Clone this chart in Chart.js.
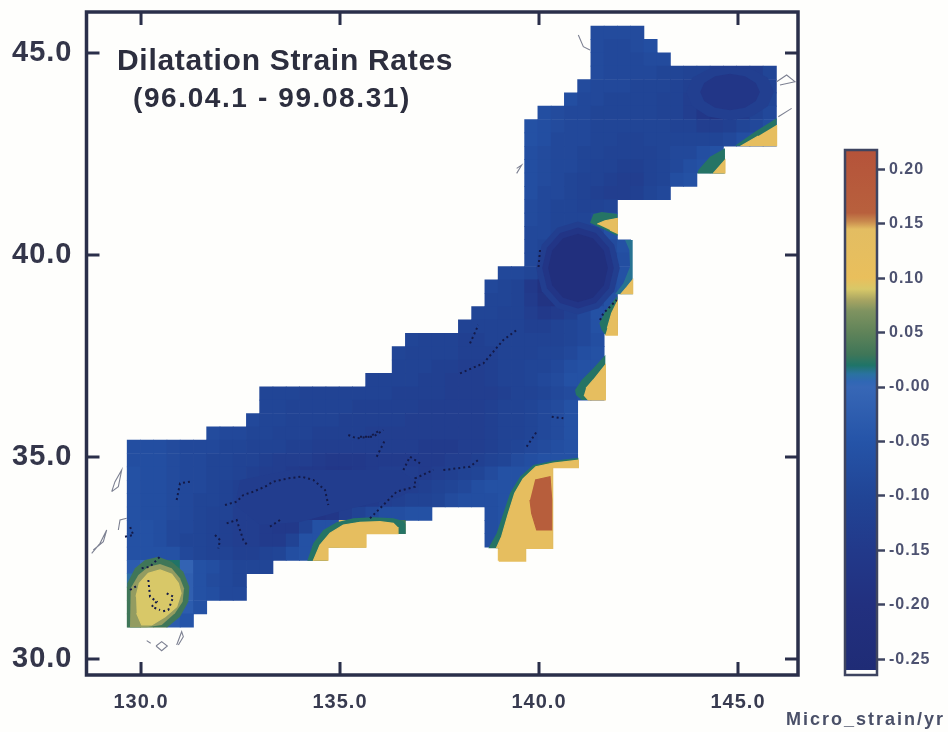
<!DOCTYPE html>
<html>
<head>
<meta charset="utf-8">
<style>
html,body{margin:0;padding:0;background:#fefefc;}
#wrap{position:relative;width:948px;height:732px;overflow:hidden;}
canvas{position:absolute;left:0;top:0;}
</style>
<script src="https://cdn.jsdelivr.net/npm/chart.js@4"></script>
</head>
<body>
<div id="wrap">
<canvas id="map" width="948" height="732"></canvas>
<canvas id="bar" width="948" height="732"></canvas>
</div>
<script>
// ---- text and ticks
const titleLine1 = "Dilatation Strain Rates";
const titleLine2 = "(96.04.1 - 99.08.31)";
const unitLabel = "Micro_strain/yr";
const lonTicks = [130, 135, 140, 145];
const latTicks = [30, 35, 40, 45];
const colorbarTicks = [0.20, 0.15, 0.10, 0.05, 0, -0.05, -0.10, -0.15, -0.20, -0.25];
const colorbarTickLabels = ["0.20", "0.15", "0.10", "0.05", "-0.00", "-0.05", "-0.10", "-0.15", "-0.20", "-0.25"];

// ---- colour scale
const colorbarValues = [0.2177, 0.16, 0.152, 0.145, 0.10, 0.09, 0.08, 0.07, 0.05, 0.03, 0.02, 0.012, 0.005, 0, -0.05, -0.10, -0.15, -0.20, -0.2595];
const colorbarColors = ["#b5533a", "#b8603d", "#c98a4e", "#e3bd62", "#e9bf5c", "#d8c868", "#a8a562", "#7f9360", "#5f8359", "#3f7658", "#1f7468", "#2a72a0", "#3067b4", "#3767b6", "#2554a8", "#214596", "#22398a", "#22307f", "#1f2c76"];

// ---- gridded strain rate: grid origin (deg) and rows of the 1/3 degree grid, north to south
const gridLon0 = 129.653, gridLonStep = 0.3329;
const gridLat0 = 45.668, gridLatStep = 0.3307;
const rowStartCol = [35,35,35,35,34,33,31,30,30,30,30,30,30,30,30,30,30,30,28,27,27,26,25,21,20,20,18,10,10,9,6,0,0,0,0,0,0,0,0,0,0,0,0,0,0];
const n = null;
const strainRows = [
[-.08,-.08,-.08,-.08],
[-.08,-.09,-.09,-.08,-.07],
[-.08,-.09,-.09,-.09,-.08,-.08],
[-.08,-.09,-.09,-.09,-.09,-.10,-.10,-.11,-.11,-.13,-.13,-.13,-.13,-.10],
[-.08,-.09,-.09,-.09,-.10,-.10,-.10,-.11,-.12,-.14,-.17,-.18,-.18,-.16,-.11],
[-.07,-.09,-.09,-.10,-.10,-.10,-.10,-.11,-.11,-.13,-.17,-.19,-.19,-.18,-.15,-.10],
[-.07,-.08,-.09,-.09,-.10,-.10,-.10,-.10,-.10,-.11,-.11,-.13,-.16,-.18,-.17,-.14,-.11,-.09],
[-.06,-.07,-.08,-.09,-.09,-.10,-.10,-.10,-.10,-.10,-.10,-.11,-.11,-.13,-.13,-.12,-.10,-.09,-.07],
[-.06,-.07,-.09,-.09,-.09,-.10,-.10,-.11,-.11,-.10,-.10,-.10,-.10,-.10,-.10,-.09,-.07,-.06,-.06],
[-.07,-.08,-.09,-.09,-.10,-.10,-.11,-.11,-.11,-.11,-.10,-.09,-.09,-.07,-.06],
[-.07,-.08,-.09,-.09,-.10,-.11,-.11,-.12,-.12,-.11,-.10,-.09,-.07,-.06,-.06],
[-.07,-.08,-.09,-.10,-.11,-.11,-.12,-.13,-.13,-.11,-.10,-.07,-.06],
[-.07,-.09,-.09,-.10,-.11,-.12,-.13,-.13,-.12,-.10,-.09],
[-.08,-.09,-.10,-.10,-.11,-.11,-.10],
[-.08,-.09,-.10,-.10,-.10,-.09,-.06],
[-.09,-.09,-.10,-.10,-.10,-.09,-.06],
[-.09,-.10,-.11,-.12,-.11,-.10,-.08,-.06],
[-.09,-.11,-.15,-.17,-.16,-.13,-.10,-.07],
[-.09,-.09,-.10,-.13,-.18,-.19,-.19,-.15,-.10,-.06],
[-.09,-.10,-.11,-.15,-.19,-.19,-.19,-.16,-.10,-.07,-.06],
[-.10,-.10,-.11,-.14,-.18,-.19,-.18,-.13,-.09,-.06],
[-.10,-.10,-.11,-.11,-.13,-.15,-.14,-.12,-.09,-.06,-.06],
[-.11,-.11,-.11,-.11,-.11,-.12,-.12,-.11,-.10,-.09,-.06,-.06],
[-.10,-.11,-.11,-.11,-.12,-.12,-.11,-.11,-.11,-.11,-.11,-.11,-.10,-.09,-.07],
[-.10,-.11,-.11,-.11,-.11,-.12,-.12,-.12,-.11,-.11,-.11,-.10,-.10,-.09,-.07,-.06],
[-.11,-.11,-.11,-.12,-.12,-.13,-.13,-.12,-.11,-.11,-.10,-.10,-.09,-.07,-.06,-.06],
[-.11,-.11,-.11,-.11,-.12,-.12,-.13,-.13,-.13,-.12,-.11,-.11,-.10,-.09,-.08,-.06,-.06,-.06],
[-.10,-.10,-.10,-.11,-.11,-.11,-.11,-.11,-.11,-.11,-.12,-.12,-.12,-.12,-.13,-.13,-.13,-.13,-.12,-.11,-.11,-.10,-.09,-.08,-.06,-.06],
[-.10,-.10,-.11,-.11,-.11,-.11,-.11,-.12,-.12,-.12,-.12,-.12,-.13,-.13,-.13,-.13,-.13,-.12,-.11,-.11,-.10,-.09,-.08,-.06],
[-.09,-.10,-.10,-.11,-.11,-.11,-.11,-.12,-.12,-.12,-.12,-.12,-.13,-.13,-.13,-.13,-.13,-.13,-.12,-.11,-.11,-.10,-.09,-.08,-.06],
[-.08,-.09,-.09,-.10,-.10,-.11,-.11,-.11,-.12,-.12,-.12,-.12,-.13,-.13,-.13,-.13,-.13,-.13,-.13,-.13,-.13,-.12,-.11,-.11,-.10,-.09,-.08,-.06],
[-.07,-.07,-.07,-.08,-.09,-.09,-.09,-.10,-.10,-.11,-.11,-.11,-.12,-.12,-.13,-.13,-.13,-.13,-.13,-.13,-.13,-.13,-.14,-.14,-.14,-.13,-.13,-.12,-.11,-.10,-.09,-.08,-.07,-.06],
[-.07,-.07,-.07,-.08,-.09,-.09,-.10,-.10,-.11,-.11,-.12,-.13,-.13,-.13,-.14,-.15,-.15,-.15,-.14,-.14,-.14,-.14,-.14,-.14,-.13,-.13,-.12,-.11,-.10,-.08,-.07,-.06,-.06,-.06],
[-.06,-.07,-.07,-.08,-.09,-.09,-.10,-.10,-.11,-.12,-.13,-.13,-.14,-.15,-.15,-.16,-.16,-.15,-.14,-.13,-.13,-.13,-.14,-.13,-.12,-.11,-.10,-.08,-.06,-.06,-.06,-.06],
[-.06,-.07,-.07,-.08,-.09,-.09,-.10,-.11,-.12,-.13,-.13,-.14,-.15,-.16,-.16,-.16,-.16,-.15,-.14,-.13,-.13,-.13,-.12,-.11,-.10,-.09,-.07,-.06,-.06,-.06,.12,.12],
[-.06,-.07,-.07,-.08,-.09,-.10,-.10,-.11,-.12,-.13,-.14,-.15,-.16,-.16,-.17,-.17,-.16,-.15,-.14,-.13,-.12,-.11,-.11,-.10,-.08,-.07,-.07,-.07,-.06,.12,.15,.18],
[-.06,-.07,-.07,-.08,-.09,-.10,-.11,-.11,-.13,-.13,-.14,-.15,-.16,-.16,-.17,-.16,-.13,-.11,-.09,-.07,-.07,-.06,-.06,n,n,n,n,-.07,-.06,.12,.16,.19],
[-.06,-.06,-.07,-.09,-.09,-.10,-.11,-.12,-.13,-.13,-.14,-.15,-.15,-.11,-.06,-.06,.10,.11,.11,.11,.03,n,n,n,n,n,n,-.07,-.06,.12,.16,.19],
[-.06,-.06,-.07,-.09,-.10,-.10,-.11,-.12,-.13,-.13,-.14,-.14,-.11,-.06,-.06,.06,.11,.11,n,n,n,n,n,n,n,n,n,-.07,.10,.12,.16,.19],
[-.06,-.06,-.06,-.06,-.09,-.10,-.11,-.11,-.12,-.12,-.11,-.10,-.07,-.06,.11,n,n,n,n,n,n,n,n,n,n,n,n,n,.11,.11],
[-.03,.00,.02,.02,-.01,-.06,-.07,-.09,-.10,-.10,-.10],
[.01,.05,.11,.10,-.02,-.06,-.08,-.09,-.10],
[.03,.08,.11,.10,-.02,-.06,-.07,-.09,-.09],
[.03,.08,.10,.08,-.03,-.06],
[.03,.07,.07,-.03,-.05]
];

// ---- contour areas: [lon, lat] vertices, with the value of each area
const honshuLowOuter = [[142.03,39.678],[141.89,40.253],[141.505,40.674],[140.98,40.828],[140.455,40.674],[140.07,40.253],[139.93,39.678],[140.07,39.103],[140.455,38.682],[140.98,38.528],[141.505,38.682],[141.89,39.103]];
const honshuLowMiddle = [[141.88,39.678],[141.76,40.178],[141.43,40.544],[140.98,40.678],[140.53,40.544],[140.2,40.178],[140.08,39.678],[140.2,39.178],[140.53,38.812],[140.98,38.678],[141.43,38.812],[141.76,39.178]];
const honshuLowInner = [[141.73,39.678],[141.63,40.103],[141.355,40.414],[140.98,40.528],[140.605,40.414],[140.33,40.103],[140.23,39.678],[140.33,39.253],[140.605,38.942],[140.98,38.828],[141.355,38.942],[141.63,39.253]];
const hokkaidoLowOuter = [[145.9,44.035],[145.75,44.385],[145.35,44.6],[144.8,44.65],[144.25,44.6],[143.85,44.385],[143.7,44.035],[143.85,43.685],[144.25,43.43],[144.8,43.335],[145.35,43.43],[145.75,43.685]];
const hokkaidoLowInner = [[145.55,44.035],[145.45,44.26],[145.175,44.425],[144.8,44.485],[144.425,44.425],[144.15,44.26],[144.05,44.035],[144.15,43.81],[144.425,43.645],[144.8,43.585],[145.175,43.645],[145.45,43.81]];
const westLow = [[132.487,34.431],[133.744,34.678],[135.251,34.678],[136.508,34.678],[137.01,34.307],[136.508,34.01],[135.126,33.688],[133.995,33.391],[132.99,33.317],[132.362,33.812]];
const kyushuOuter = [[129.656,31.873],[129.849,32.244],[130.10,32.45],[130.435,32.533],[130.77,32.41],[131.063,32.162],[131.214,31.79],[131.189,31.419],[130.98,31.048],[130.661,30.784],[129.656,30.784]];
const kyushuMiddle = [[129.74,31.749],[129.933,32.079],[130.184,32.285],[130.477,32.351],[130.77,32.244],[130.98,31.997],[131.08,31.749],[131.047,31.419],[130.854,31.13],[130.519,30.842],[130.142,30.784],[129.723,30.784]];
const kyushuInner = [[129.874,31.543],[129.958,31.873],[130.184,32.12],[130.477,32.203],[130.77,32.096],[130.938,31.873],[131.005,31.625],[130.896,31.295],[130.603,31.048],[130.268,30.842],[130.017,30.842],[129.891,31.13]];
const shikokuOuter = [[134.178,32.433],[134.329,32.864],[134.58,33.193],[134.917,33.384],[135.334,33.483],[135.837,33.507],[136.339,33.483],[136.59,33.416],[136.641,33.342],[136.641,33.102],[135.653,33.102],[135.653,32.767],[134.698,32.767],[134.698,32.433]];
const shikokuInner = [[134.329,32.433],[134.497,32.822],[134.749,33.112],[135.083,33.317],[135.503,33.384],[136.005,33.399],[136.339,33.359],[136.432,33.267],[136.457,33.102],[135.653,33.102],[135.653,32.767],[134.698,32.767],[134.698,32.433]];
const bosoOuter = [[138.727,32.739],[138.937,33.11],[139.104,33.605],[139.272,34.10],[139.523,34.513],[139.858,34.802],[140.361,34.909],[140.989,34.983],[140.989,34.736],[140.344,34.736],[140.344,32.739],[139.665,32.739],[139.665,32.425],[139.004,32.425],[139.004,32.739]];
const bosoInner = [[138.93,32.739],[139.06,33.028],[139.23,33.605],[139.39,34.10],[139.60,34.46],[139.92,34.76],[140.361,34.85],[140.989,34.92],[140.989,34.736],[140.344,34.736],[140.344,32.739],[139.665,32.739],[139.665,32.425],[139.004,32.425],[139.004,32.739]];
const bosoPeak = [[139.90,34.43],[140.277,34.513],[140.319,33.935],[140.319,33.193],[139.942,33.193],[139.816,33.605],[139.774,33.935]];
const kashimaOuter = [[140.905,36.658],[141.072,36.906],[141.365,37.195],[141.667,37.525],[141.667,36.411],[141.072,36.411],[140.93,36.535]];
const kashimaInner = [[141.181,36.70],[141.365,36.906],[141.667,37.277],[141.667,36.411],[141.24,36.411],[141.131,36.535]];
const sanrikuOuter = [[141.516,38.308],[141.659,38.597],[141.784,38.762],[141.969,38.985],[141.969,38.019],[141.667,38.019],[141.575,38.143]];
const sanrikuInner = [[141.717,38.184],[141.826,38.556],[141.969,38.844],[141.969,38.019],[141.667,38.019]];
const iwateEdge = [[142.161,40.371],[142.354,40.371],[142.354,39.026],[141.91,39.026],[142.119,39.298],[142.287,39.711],[142.27,40.123]];
const iwateInner = [[142.052,39.026],[142.203,39.199],[142.354,39.381],[142.354,39.026]];
const aomoriOuter = [[141.282,40.80],[141.366,41.014],[141.575,41.064],[141.969,41.014],[141.969,40.47],[141.784,40.561],[141.491,40.701]];
const aomoriInner = [[141.466,40.767],[141.659,40.849],[141.969,40.907],[141.969,40.536],[141.784,40.618]];
const kushiroOuter = [[145.97,43.383],[145.97,42.706],[144.925,42.706],[145.427,43.053]];
const kushiroInner = [[145.97,43.218],[145.97,42.706],[145.092,42.706],[145.511,42.946]];
const erimoOuter = [[144.003,42.104],[144.297,42.434],[144.673,42.64],[144.673,42.02],[143.98,42.02]];
const erimoInner = [[144.38,42.02],[144.673,42.352],[144.673,42.02]];
const contourAreas = [honshuLowOuter,honshuLowMiddle,honshuLowInner,hokkaidoLowOuter,hokkaidoLowInner,westLow,kyushuOuter,kyushuMiddle,kyushuInner,shikokuOuter,shikokuInner,bosoOuter,bosoInner,bosoPeak,kashimaOuter,kashimaInner,sanrikuOuter,sanrikuInner,iwateEdge,iwateInner,aomoriOuter,aomoriInner,kushiroOuter,kushiroInner,erimoOuter,erimoInner];
const contourValues = [-0.13,-0.17,-0.21,-0.125,-0.165,-0.135,0.03,0.075,0.09,0.022,0.12,0.022,0.12,0.17,0.022,0.12,0.022,0.12,0.014,0.12,0.022,0.12,0.022,0.12,0.022,0.12];

// ---- coastlines over the field
const coastDark = [
[[132.11,33.812],[132.403,33.894],[132.571,34.059],[132.822,34.142],[133.115,34.266],[133.325,34.39],[133.701,34.472],[134.036,34.513],[134.33,34.431],[134.623,34.183],[134.706,33.812]],
[[135.209,35.545],[135.418,35.462],[135.753,35.503],[136.005,35.668]],
[[132.152,33.358],[132.403,33.441],[132.487,33.193],[132.571,32.946],[132.696,32.781]],
[[131.859,33.069],[131.985,32.946],[131.943,32.739]],
[[130.896,33.936],[130.98,34.348],[131.231,34.39]],
[[133.241,33.276],[133.492,33.441]],
[[130.184,31.955],[130.226,31.543],[130.393,31.419],[130.268,31.295],[130.477,31.213]],
[[130.645,31.625],[130.812,31.543],[130.686,31.213],[130.519,31.172]],
[[129.723,31.708],[129.933,31.832]],
[[130.016,32.244],[130.226,32.285],[130.477,32.533]],
[[129.598,33.028],[129.807,33.069],[129.723,33.276]],
[[138.267,37.813],[138.476,38.267]],
[[138.016,37.071],[138.602,37.318],[139.104,37.896],[139.439,38.143]],
[[139.69,35.256],[139.942,35.627]],
[[140.319,35.998],[140.612,35.957]],
[[137.597,34.678],[138.267,34.76],[138.518,34.967]],
[[135.754,33.482],[136.173,33.894],[136.424,34.142],[136.885,34.265],[136.885,34.472],[137.346,34.678]],
[[136.592,34.678],[136.759,35.008],[137.01,34.843]],
[[135.922,35.008],[136.131,35.421]],
[[135.503,35.503],[135.838,35.503],[136.089,35.668]],
[[141.533,38.391],[141.617,38.556],[141.952,38.886]],
[[140.025,40.123],[139.983,39.628]]
];
const coastIslands = [
[[129.263,34.142],[129.346,34.39],[129.514,34.678],[129.43,34.266],[129.263,34.142]],
[[128.76,32.616],[128.97,32.863],[129.137,33.193],[129.053,32.904],[128.802,32.698]],
[[129.43,33.193],[129.472,33.441],[129.64,33.482]],
[[130.377,30.322],[130.519,30.429],[130.661,30.322],[130.519,30.206],[130.377,30.322]],
[[130.896,30.347],[131.021,30.676],[131.063,30.553],[130.938,30.347]],
[[130.142,30.454],[130.243,30.388]],
[[140.988,45.445],[141.114,45.156],[141.281,45.074]],
[[139.439,42.145],[139.564,42.227],[139.439,42.021]],
[[145.971,44.29],[146.222,44.455],[146.431,44.29],[146.055,44.208]],
[[146.013,43.424],[146.348,43.63]]
];

// ---- helpers
function hexToRgb(h){return [parseInt(h.slice(1,3),16),parseInt(h.slice(3,5),16),parseInt(h.slice(5,7),16)];}
function colorOf(v){
  for(let i=1;i<colorbarValues.length;i++){
    if(v>=colorbarValues[i]){
      const a=hexToRgb(colorbarColors[i-1]),b=hexToRgb(colorbarColors[i]);
      const t=(v-colorbarValues[i])/(colorbarValues[i-1]-colorbarValues[i]);
      const c=a.map((x,k)=>Math.round(b[k]+(x-b[k])*Math.min(1,t)));
      return `rgb(${c[0]},${c[1]},${c[2]})`;
    }
  }
  return colorbarColors[colorbarColors.length-1];
}
const toXY=p=>({x:p[0],y:p[1]});

const cellPoints=[],cellColors=[];
strainRows.forEach((row,r)=>{
  row.forEach((v,i)=>{
    if(v===null)return;
    cellPoints.push({x:gridLon0+(rowStartCol[r]+i+0.5)*gridLonStep,y:gridLat0-(r+0.5)*gridLatStep});
    cellColors.push(colorOf(v));
  });
});

const datasets=[{
  label:'cells',data:cellPoints,pointStyle:'rect',pointRadius:9.9,pointHoverRadius:9.9,
  pointBackgroundColor:cellColors,pointBorderWidth:0,showLine:false,order:100
}];
contourAreas.forEach((area,i)=>{
  const c=colorOf(contourValues[i]);
  datasets.push({label:'contour'+i,data:area.map(toXY),showLine:true,fill:'shape',backgroundColor:c,
    borderColor:c,borderWidth:contourValues[i]>=0.09?1.2:0,pointRadius:0,tension:0,order:90-i});
});
coastDark.forEach((l,i)=>datasets.push({label:'coast'+i,data:l.map(toXY),showLine:true,fill:false,borderColor:'#141a48',
  borderWidth:2,borderDash:[2,3],pointRadius:0,tension:0,order:5}));
coastIslands.forEach((l,i)=>datasets.push({label:'isle'+i,data:l.map(toXY),showLine:true,fill:false,borderColor:'#7d8192',
  borderWidth:1.1,pointRadius:0,tension:0,order:4}));

const axisColor='#2a2f4a';
function tickVals(list){return s=>{s.ticks=list.map(v=>({value:v}));};}

const frameTicks={
  id:'frameTicks',
  beforeDraw(c){c.ctx.letterSpacing='1px';},
  afterDraw(c){
    const {ctx,chartArea:a,scales:{x,y}}=c,len=13;
    ctx.save();
    ctx.letterSpacing='0px';
    ctx.strokeStyle=axisColor;ctx.lineWidth=3;
    lonTicks.forEach(v=>{const p=x.getPixelForValue(v);
      ctx.beginPath();ctx.moveTo(p,a.top);ctx.lineTo(p,a.top+len);ctx.moveTo(p,a.bottom);ctx.lineTo(p,a.bottom-len);ctx.stroke();});
    latTicks.forEach(v=>{const p=y.getPixelForValue(v);
      ctx.beginPath();ctx.moveTo(a.left,p);ctx.lineTo(a.left+len,p);ctx.moveTo(a.right,p);ctx.lineTo(a.right-len,p);ctx.stroke();});
    ctx.lineWidth=3.5;ctx.strokeRect(a.left,a.top,a.right-a.left,a.bottom-a.top);
    ctx.fillStyle='#2c2e3e';ctx.textAlign='left';ctx.textBaseline='alphabetic';
    ctx.font='bold 30px "Liberation Sans"';ctx.letterSpacing='0.7px';ctx.fillText(titleLine1,117,70);
    ctx.font='bold 28px "Liberation Sans"';ctx.letterSpacing='1.6px';ctx.fillText(titleLine2,133,107);
    ctx.restore();
  }
};

new Chart(document.getElementById('map'),{
  type:'scatter',
  data:{datasets},
  plugins:[frameTicks],
  options:{
    responsive:false,animation:false,events:[],
    layout:{padding:{left:0,top:12,right:150,bottom:0}},
    plugins:{legend:{display:false},tooltip:{enabled:false},title:{display:false}},
    scales:{
      x:{type:'linear',min:128.63,max:146.508,afterBuildTicks:tickVals(lonTicks),
        afterFit:s=>{s.height=57;s.paddingLeft=0;s.paddingRight=0;},
        grid:{display:false},border:{display:false},
        ticks:{autoSkip:false,maxRotation:0,padding:7,color:'#383b50',font:{family:'"Liberation Sans"',size:20,weight:'bold'},callback:v=>v.toFixed(1)}},
      y:{type:'linear',min:29.604,max:46.015,afterBuildTicks:tickVals(latTicks),
        afterFit:s=>{s.width=86.5;s.paddingTop=0;s.paddingBottom=0;},
        grid:{display:false},border:{display:false},
        ticks:{autoSkip:false,padding:6,color:'#34364a',font:{family:'"Liberation Sans"',size:29,weight:'bold'},callback:v=>v.toFixed(1)}}
    }
  }
});

// ---- colour bar
const barFrame={
  id:'barFrame',
  beforeDraw(c){c.ctx.letterSpacing='1px';},
  afterDraw(c){
    const {ctx,chartArea:a}=c;
    ctx.save();
    ctx.strokeStyle='#3e4460';ctx.lineWidth=2.5;ctx.strokeRect(a.left,a.top,a.right-a.left,a.bottom-a.top);
    ctx.fillStyle='#4a5068';ctx.font='bold 18px "Liberation Sans"';ctx.letterSpacing='2px';
    ctx.textAlign='left';ctx.textBaseline='alphabetic';ctx.fillText(unitLabel,786,725);
    ctx.restore();
  }
};
new Chart(document.getElementById('bar'),{
  type:'bar',
  data:{labels:['scale'],datasets:[{
    data:[[colorbarValues[colorbarValues.length-1],colorbarValues[0]]],
    barPercentage:1,categoryPercentage:1,borderWidth:0,
    backgroundColor(ctx){
      const {chart}=ctx;if(!chart.chartArea)return '#22398a';
      const yS=chart.scales.y,top=yS.getPixelForValue(colorbarValues[0]),bot=yS.getPixelForValue(colorbarValues[colorbarValues.length-1]);
      const g=chart.ctx.createLinearGradient(0,top,0,bot);
      colorbarValues.forEach((v,i)=>g.addColorStop((colorbarValues[0]-v)/(colorbarValues[0]-colorbarValues[colorbarValues.length-1]),colorbarColors[i]));
      return g;
    }
  }]},
  plugins:[barFrame],
  options:{
    responsive:false,animation:false,events:[],
    layout:{padding:{left:845,top:150,right:0,bottom:57}},
    plugins:{legend:{display:false},tooltip:{enabled:false}},
    scales:{
      x:{display:false},
      y:{position:'right',min:-0.2644,max:0.2177,afterBuildTicks:tickVals(colorbarTicks),
        afterFit:s=>{s.width=71;s.paddingTop=0;s.paddingBottom=0;},
        grid:{drawOnChartArea:false,tickLength:8,tickWidth:2.5,tickColor:'#3e4460'},border:{display:false},
        ticks:{autoSkip:false,padding:4,color:'#4d5270',font:{family:'"Liberation Sans"',size:16,weight:'bold'},
          callback:v=>{const i=colorbarTicks.findIndex(t=>Math.abs(t-v)<1e-6);return i<0?'':colorbarTickLabels[i];}}}
    }
  }
});
</script>
</body>
</html>
